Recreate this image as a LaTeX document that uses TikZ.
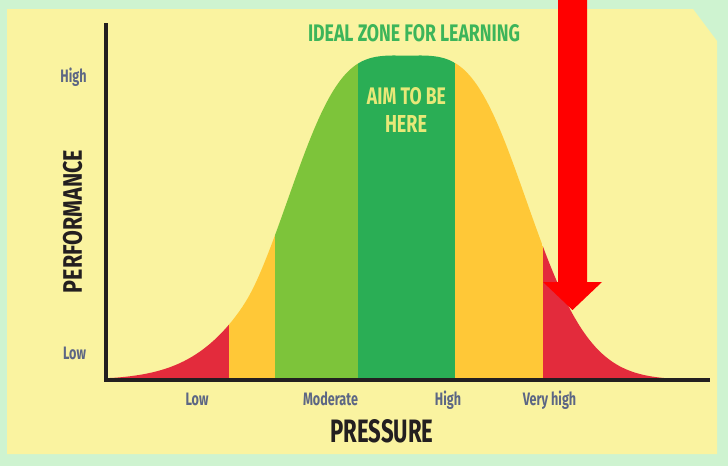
\documentclass[tikz,border=0pt]{standalone}
\usepackage{fontspec}
\setmainfont{Fira Sans}
\usepackage{graphicx}
\definecolor{bgmint}{RGB}{206,243,208}
\definecolor{panelyellow}{RGB}{250,243,160}
\definecolor{cred}{RGB}{227,43,60}
\definecolor{cyellow}{RGB}{255,200,55}
\definecolor{clgreen}{RGB}{125,196,58}
\definecolor{cdgreen}{RGB}{42,174,85}
\definecolor{arrowred}{RGB}{255,0,0}
\definecolor{axisblack}{RGB}{35,31,32}
\definecolor{labelgray}{RGB}{92,102,132}
\definecolor{titlegreen}{RGB}{60,181,90}
\definecolor{aimyellow}{RGB}{232,232,120}
\tikzset{
  axisline/.style={draw=axisblack, line width=4pt},
  ticklabel/.style={text=labelgray, font=\bfseries\fontsize{18}{18}\selectfont, inner sep=0pt, anchor=base},
  bigtitle/.style={text=axisblack, inner sep=0pt},
  capstext/.style={inner sep=0pt},
  declare function={
    bellv(\x)=abs(\x-407)/100;
    bellt(\x)=(bellv(\x)-1.57+sqrt((bellv(\x)-1.57)*(bellv(\x)-1.57)+0.01))/2;
    bellw(\x)=(\x<407) ? (bellv(\x)-0.28*bellt(\x)) : bellv(\x);
    bellu(\x)=bellw(\x)*bellw(\x);
    bellr(\x)=exp(-0.494*bellu(\x)*bellu(\x)/(1+0.486*bellu(\x)));
    bell(\x)=378-322.5*max(0,(bellr(\x)-0.006)/0.994);},
}
\begin{document}
\begin{tikzpicture}[x=1pt,y=-1pt]
\useasboundingbox (0,0) rectangle (728,466);
\fill[bgmint] (0,0) rectangle (728,466);
\fill[panelyellow] (7,9) -- (693,9) -- (717,41) -- (717,454) -- (7,454) -- cycle;

% bell curve with coloured bands
\begin{scope}
\clip plot[domain=108:700, samples=297] (\x, {bell(\x)}) -- cycle;
\fill[cred] (100,40) rectangle (229,380);
\fill[cyellow] (229,40) rectangle (275,380);
\fill[clgreen] (275,40) rectangle (358,380);
\fill[cdgreen] (358,40) rectangle (455,380);
\fill[cyellow] (455,40) rectangle (543,380);
\fill[cred] (543,40) rectangle (710,380);
\end{scope}

% axes
\coordinate (ytop) at (106,23);
\coordinate (origin) at (106,380.3);
\coordinate (xend) at (710,380.3);
\draw[axisline] (ytop) -- (origin) -- (xend);

% red arrow
\fill[arrowred] (558,-1) -- (587,-1) -- (587,282) -- (602,282) -- (572.5,310) -- (543,282) -- (558,282) -- cycle;

% axis tick labels
\node[ticklabel] (yhigh) at (73.5,82) {\scalebox{0.7}[1]{High}};
\node[ticklabel] (ylow) at (74.5,359) {\scalebox{0.7}[1]{Low}};
\node[ticklabel] (xlow) at (197,405) {\scalebox{0.7}[1]{Low}};
\node[ticklabel] (xmod) at (330.5,405) {\scalebox{0.7}[1]{Moderate}};
\node[ticklabel] (xhigh) at (448,405) {\scalebox{0.7}[1]{High}};
\node[ticklabel] (xvhigh) at (549.5,405) {\scalebox{0.7}[1]{Very high}};

% axis titles
\node[bigtitle] (xtitle) at (382,431.5) {\resizebox{103pt}{23pt}{\bfseries PRESSURE}};
\node[bigtitle, rotate=90] (ytitle) at (72.5,221.5) {\resizebox{143pt}{19pt}{\bfseries PERFORMANCE}};

% zone texts
\node[capstext, text=titlegreen] (ideal) at (414,33.5) {\resizebox{212pt}{17pt}{\bfseries IDEAL ZONE FOR LEARNING}};
\node[capstext, text=aimyellow] (aim) at (406.5,96.5) {\resizebox{79pt}{17pt}{\bfseries AIM TO BE}};
\node[capstext, text=aimyellow] (here) at (406,123.5) {\resizebox{42pt}{17pt}{\bfseries HERE}};
\end{tikzpicture}
\end{document}
